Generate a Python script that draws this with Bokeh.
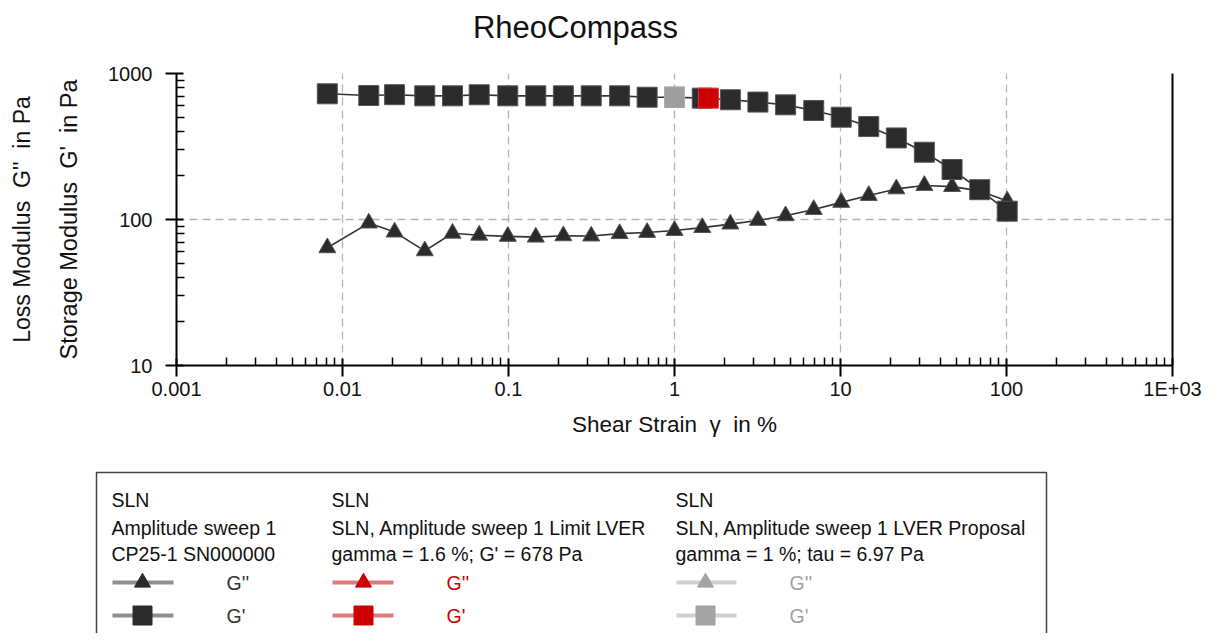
import math
from bokeh.plotting import figure
from bokeh.models import Range1d, FixedTicker, CustomJSTickFormatter, LogAxis
from bokeh.embed import file_html
from bokeh.resources import INLINE
from bokeh.core.properties import value

FONT = "Liberation Sans"
NB = "\u00a0"

# ---------------- data ----------------
strain = [0.0081, 0.0144, 0.0206, 0.0313, 0.046, 0.0666, 0.099, 0.146, 0.214,
          0.315, 0.467, 0.684, 1.0, 1.47, 2.17, 3.18, 4.67, 6.9, 10.1, 14.8,
          21.7, 32.0, 47.0, 69.0, 101.0]
g_storage = [726, 707, 716, 703, 703, 715, 703, 703, 703, 703, 703, 688, 688,
             678, 661, 637, 610, 558, 502, 433, 362, 289, 220, 160, 114]
g_loss = [64, 94.5, 82, 61, 80.5, 78, 76.6, 75.7, 77.3, 77, 80, 81.5, 84, 88,
          93, 98.5, 106, 117, 131, 146, 162, 171, 168, 157, 134]

lver_proposal_strain = [1.0]
lver_proposal_storage = [688]
lver_limit_strain = [1.6]
lver_limit_storage = [678]

x_ticks = [0.001, 0.01, 0.1, 1, 10, 100, 1000]
x_tick_labels = ["0.001", "0.01", "0.1", "1", "10", "100", "1E+03"]
y_ticks = [10, 100, 1000]
y_tick_labels = ["10", "100", "1000"]

title_text = "RheoCompass"
x_label = "Shear Strain" + NB + " \u03b3" + NB + " in %"
y_label_storage = "Storage Modulus" + NB + " G'" + NB + " in Pa"
y_label_loss = "Loss Modulus" + NB + " G''" + NB + " in Pa"

legend_headers = [
    ["SLN", "Amplitude sweep 1", "CP25-1 SN000000"],
    ["SLN", "SLN, Amplitude sweep 1 Limit LVER", "gamma = 1.6 %; G' = 678 Pa"],
    ["SLN", "SLN, Amplitude sweep 1 LVER Proposal", "gamma = 1 %; tau = 6.97 Pa"],
]
legend_series = ["G''", "G'"]

# ---------------- styles ----------------
DARK = "#2b2b2b"
W = 1215
H_TITLE = 62
H_MAIN = 388
H_LEG = 183

x_minor = [m * 10 ** e for e in range(-3, 3) for m in range(2, 10)]
y_minor = [m * 10 ** e for e in range(1, 3) for m in range(2, 10)]

fmt_code = """
const i = vals.findIndex(v => Math.abs(Math.log10(v) - Math.log10(tick)) < 1e-6);
return i >= 0 ? labs[i] : "";
"""


def blank_panel(top, height):
    f = figure(width=W, height=height, x_range=Range1d(0, W),
               y_range=Range1d(top + height, top), output_backend="svg",
               toolbar_location=None, min_border=0,
               x_axis_location=None, y_axis_location=None)
    f.grid.visible = False
    f.outline_line_color = None
    f.background_fill_color = "white"
    f.border_fill_color = "white"
    f.title.visible = False
    return f


# ---------------- title panel ----------------
t = blank_panel(0, H_TITLE)
t.text(x=[575], y=[27], text=[title_text], text_font=value(FONT),
       text_font_size="31px", text_align="center", text_baseline="middle",
       text_color="#111111")

# ---------------- main plot ----------------
p = figure(width=W, height=H_MAIN, x_axis_type="log", y_axis_type="log",
           x_range=Range1d(0.001, 1000), y_range=Range1d(10, 1000),
           output_backend="svg", toolbar_location=None,
           min_border_left=176, min_border_right=W - 1172,
           min_border_top=73 - H_TITLE, min_border_bottom=H_TITLE + H_MAIN - 365)
p.title.visible = False
p.outline_line_color = None
p.background_fill_color = "white"
p.border_fill_color = "white"

p.xaxis.ticker = FixedTicker(ticks=x_ticks, minor_ticks=x_minor)
p.yaxis.ticker = FixedTicker(ticks=y_ticks, minor_ticks=y_minor)
p.xaxis.formatter = CustomJSTickFormatter(args=dict(vals=x_ticks, labs=x_tick_labels), code=fmt_code)
p.yaxis.formatter = CustomJSTickFormatter(args=dict(vals=y_ticks, labs=y_tick_labels), code=fmt_code)

for ax in (p.xaxis, p.yaxis):
    ax.axis_line_width = 2
    ax.axis_line_color = "black"
    ax.major_tick_line_width = 2
    ax.major_tick_line_color = "black"
    ax.minor_tick_line_width = 1.5
    ax.minor_tick_line_color = "black"
    ax.major_tick_in = 7
    ax.major_tick_out = 11
    ax.minor_tick_in = 8
    ax.minor_tick_out = 0
    ax.major_label_text_font = FONT
    ax.major_label_text_font_size = "20px"
    ax.major_label_text_color = "#111111"
    ax.axis_label_text_font = FONT
    ax.axis_label_text_font_style = "normal"
    ax.axis_label_text_color = "#111111"

p.xaxis.major_label_standoff = 1
p.yaxis.major_label_standoff = 13
p.xaxis.axis_label = x_label
p.xaxis.axis_label_text_font_size = "22.5px"
p.xaxis.axis_label_standoff = 9
p.yaxis.axis_label = y_label_storage
p.yaxis.axis_label_text_font_size = "23.5px"
p.yaxis.axis_label_standoff = 23

# second (label-only) left axis for the loss modulus
loss_axis = LogAxis(ticker=FixedTicker(ticks=[]), axis_label=y_label_loss,
                    axis_line_color=None, major_tick_line_color=None,
                    minor_tick_line_color=None, major_tick_in=0, major_tick_out=0,
                    minor_tick_in=0, minor_tick_out=0, major_label_standoff=0,
                    axis_label_standoff=19, axis_label_text_font=FONT,
                    axis_label_text_font_size="23px", axis_label_text_font_style="normal",
                    axis_label_text_color="#111111")
p.add_layout(loss_axis, "left")

p.grid.grid_line_color = "#b4b4b4"
p.grid.grid_line_dash = "8 5"
p.grid.grid_line_width = 1.3

ra = LogAxis(ticker=FixedTicker(ticks=[]), axis_line_width=2, axis_line_color="black",
             major_tick_line_color=None, minor_tick_line_color=None,
             major_label_text_font_size="0px")
p.add_layout(ra, "right")

# data
p.line(strain, g_loss, line_color="#333333", line_width=1.6)
p.line(strain, g_storage, line_color="#333333", line_width=1.6)
p.scatter(strain, g_loss, marker="triangle", size=17, fill_color=DARK,
          line_color="#555555", line_width=1)
p.scatter(strain, g_storage, marker="square", size=20, fill_color=DARK,
          line_color="#555555", line_width=1)
p.scatter(lver_proposal_strain, lver_proposal_storage, marker="square", size=20,
          fill_color="#9e9e9e", line_color="#b0b0b0", line_width=1)
p.scatter(lver_limit_strain, lver_limit_storage, marker="square", size=20,
          fill_color="#cc0000", line_color="#dd3333", line_width=1)

# ---------------- legend panel (page pixel coordinates) ----------------
Y0 = H_TITLE + H_MAIN
q = blank_panel(Y0, H_LEG)

q.line([96, 96, 1046, 1046], [Y0 + H_LEG + 5, 472, 472, Y0 + H_LEG + 5],
       line_color="#444444", line_width=1.5)

col_x = [111, 331, 675]
sw_line = [(112, 173), (332, 393), (676, 736)]
sw_mark = [142, 363, 705]
sw_text = [226, 446, 789]
line_cols = ["#8f8f8f", "#e07a7a", "#d0d0d0"]
mark_cols = [DARK, "#cc0000", "#a3a3a3"]
text_cols = ["#333333", "#cc0000", "#a0a0a0"]
header_y = [499, 527, 553]
row_y = [582, 615]
markers = ["triangle", "square"]
msize = [16, 19]

for i in range(3):
    q.text(x=[col_x[i]] * 3, y=header_y, text=legend_headers[i],
           text_font=value(FONT), text_font_size="19.5px", text_baseline="middle",
           text_color="#111111")
    for j in range(2):
        x0, x1 = sw_line[i]
        q.line([x0, x1], [row_y[j], row_y[j]], line_color=line_cols[i], line_width=4)
        q.scatter([sw_mark[i]], [row_y[j]], marker=markers[j], size=msize[j],
                  fill_color=mark_cols[i], line_color=mark_cols[i])
        q.text(x=[sw_text[i]], y=[row_y[j]], text=[legend_series[j]],
               text_font=value(FONT), text_font_size="19.5px", text_baseline="middle",
               text_color=text_cols[i])

open("out.html", "w").write(file_html([t, p, q], INLINE))
